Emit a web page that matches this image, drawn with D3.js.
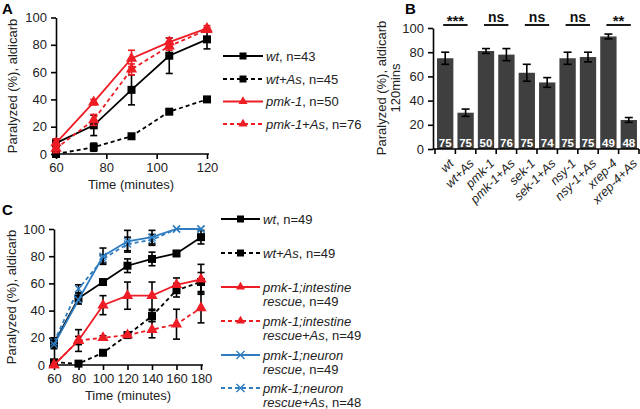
<!DOCTYPE html>
<html><head><meta charset="utf-8">
<script src="https://cdn.jsdelivr.net/npm/d3@7"></script>
<style>
body{margin:0;background:#fff}
svg{font-family:"Liberation Sans",Arial,sans-serif}
</style></head>
<body><svg id="c" width="640" height="409"></svg>
<script>
// ---------- Panel A data ----------
const timesA = [60, 75, 90, 105, 120];
const wtA = [8, 21, 47, 72, 84];
const wtAErr = [3, 7.5, 11, 13, 7];
const wtAsA = [0, 5, 13, 31, 40];
const wtAsAErr = [1, 3, 1.5, 1.5, 1.5];
const pmkA = [8, 38, 70, 82, 92];
const pmkAErr = [3, 2, 6, 3, 2];
const pmkAsA = [4, 25, 62, 79, 91];
const pmkAsAErr = [3, 4, 4, 3, 1.5];
const legendA = [["wt", ", n=43"], ["wt+As", ", n=45"], ["pmk-1", ", n=50"], ["pmk-1+As", ", n=76"]];

// ---------- Panel B data ----------
const strainsB = ["wt", "wt+As", "pmk-1", "pmk-1+As", "sek-1", "sek-1+As", "nsy-1", "nsy-1+As", "xrep-4", "xrep-4+As"];
const valuesB = [75, 30, 81, 78, 63, 55, 75, 76, 93, 24];
const errB = [5, 3, 2, 5, 7, 4, 5, 4, 2, 2];
const nB = [75, 75, 50, 76, 75, 74, 75, 75, 49, 48];
const sigB = ["***", "ns", "ns", "ns", "**"];

// ---------- Panel C data ----------
const timesC = [60, 80, 100, 120, 140, 160, 180];
const wtC = [16, 49, 61, 73, 78, 82, 94];
const wtCErr = [3, 4, 1.5, 5, 5, 1.5, 5];
const wtAsC = [2, 1, 9, 22, 36, 55, 61];
const wtAsCErr = [1, 1, 1.5, 1.5, 4, 5, 7];
const intC = [0, 18, 44, 51, 51, 59, 63];
const intCErr = [1, 8, 7, 10, 10, 5, 11];
const intAsC = [0, 18, 20, 22, 26, 30, 42];
const intAsCErr = [1, 3, 1.5, 1.5, 6, 11, 11];
const neuC = [15, 48, 80, 91, 94, 100, 100];
const neuCErr = [3, 3, 6, 8, 5, 0, 0];
const neuAsC = [17, 56, 78, 89, 92, 100, 100];
const neuAsCErr = [3, 3, 3, 5, 4, 0, 0];
const legendC = [
  [["wt", ", n=49"]],
  [["wt+As", ", n=49"]],
  [["pmk-1;intestine", ""], ["rescue", ", n=49"]],
  [["pmk-1;intestine", ""], ["rescue+As", ", n=49"]],
  [["pmk-1;neuron", ""], ["rescue", ", n=49"]],
  [["pmk-1;neuron", ""], ["rescue+As", ", n=48"]]
];

const RED = "#ee1c24", BLUE = "#2f7dc0", BLK = "#000", BAR = "#3f3f3f";
const svg = d3.select("#c");

function marker(g, type, x, y, color, s) {
  if (type === "sq") {
    g.append("rect").attr("x", x - s/2).attr("y", y - s/2).attr("width", s).attr("height", s).attr("fill", color);
  } else if (type === "tri") {
    g.append("path").attr("d", d3.symbol().type(d3.symbolTriangle).size(s*s*0.55)()).attr("transform", `translate(${x},${y})`).attr("fill", color);
  } else if (type === "x") {
    const h = s/2;
    g.append("path").attr("d", `M${x-h},${y-h}L${x+h},${y+h}M${x-h},${y+h}L${x+h},${y-h}`).attr("stroke", color).attr("stroke-width", 1.4);
  }
}

function axisStyle(g) {
  g.selectAll("path.domain").attr("stroke", "#000").attr("stroke-width", 1.6);
  g.selectAll(".tick line").attr("stroke", "#000").attr("stroke-width", 1.6);
  g.selectAll(".tick text").attr("font-size", 13).attr("fill", "#222").attr("font-family", "Liberation Sans, Arial, sans-serif");
}

function drawSeries(g, x, y, times, vals, errs, color, dashed, type, ms, errColor) {
  times.forEach((t, i) => {
    const e = errs[i];
    if (e <= 0) return;
    const cx = x(t), y1 = y(Math.min(100, vals[i] + e)), y2 = y(Math.max(0, vals[i] - e));
    const ec = errColor || color;
    g.append("line").attr("x1", cx).attr("x2", cx).attr("y1", y1).attr("y2", y2).attr("stroke", ec).attr("stroke-width", 1.6);
    [y1, y2].forEach(yy => g.append("line").attr("x1", cx - 3.5).attr("x2", cx + 3.5).attr("y1", yy).attr("y2", yy).attr("stroke", ec).attr("stroke-width", 1.6));
  });
  const line = d3.line().x((d, i) => x(times[i])).y(d => y(d));
  g.append("path").datum(vals).attr("d", line).attr("fill", "none").attr("stroke", color).attr("stroke-width", 1.8)
    .attr("stroke-dasharray", dashed ? "4,3" : null);
  vals.forEach((v, i) => marker(g, type, x(times[i]), y(v), color, ms));
}

function legendLabel(g, x, y, parts, size) {
  const t = g.append("text").attr("x", x).attr("y", y).attr("font-size", size).attr("fill", "#222");
  t.append("tspan").attr("font-style", "italic").text(parts[0]);
  if (parts[1]) t.append("tspan").text(parts[1]);
}

function legendRow(g, x1, x2, y, color, dashed, type, ms) {
  g.append("line").attr("x1", x1).attr("x2", x2).attr("y1", y).attr("y2", y).attr("stroke", color).attr("stroke-width", 1.8)
    .attr("stroke-dasharray", dashed ? "4,3" : null);
  marker(g, type, (x1 + x2) / 2, y, color, ms);
}

// ================= Panel A =================
{
  const g = svg.append("g");
  const x = d3.scaleLinear().domain([60, 120]).range([56, 207]);
  const y = d3.scaleLinear().domain([0, 100]).range([154, 17.5]);
  const ax = g.append("g").attr("transform", "translate(0,154)").call(d3.axisBottom(x).tickValues([60, 80, 100, 120]).tickSize(5).tickSizeOuter(0).tickPadding(4));
  ax.select("path.domain").attr("d", `M${x(60)},0H${x(120)+2}`);
  axisStyle(ax);
  const ay = g.append("g").attr("transform", "translate(56,0)").call(d3.axisLeft(y).tickValues([0, 20, 40, 60, 80, 100]).tickSize(5).tickSizeOuter(0).tickPadding(4));
  axisStyle(ay);
  g.append("text").attr("x", 131).attr("y", 189).attr("text-anchor", "middle").attr("font-size", 13).attr("fill", "#222").text("Time (minutes)");
  g.append("text").attr("transform", "translate(17,86) rotate(-90)").attr("text-anchor", "middle").attr("font-size", 13).attr("fill", "#222").text("Paralyzed (%), aldicarb");
  drawSeries(g, x, y, timesA, wtAsA, wtAsAErr, BLK, true, "sq", 8);
  drawSeries(g, x, y, timesA, wtA, wtAErr, BLK, false, "sq", 8);
  drawSeries(g, x, y, timesA, pmkAsA, pmkAsAErr, RED, true, "tri", 10);
  drawSeries(g, x, y, timesA, pmkA, pmkAErr, RED, false, "tri", 10);
  g.append("text").attr("x", 2).attr("y", 14).attr("font-size", 15).attr("font-weight", "bold").text("A");
  const rows = [56, 79, 101.5, 124];
  const sty = [[BLK, false, "sq"], [BLK, true, "sq"], [RED, false, "tri"], [RED, true, "tri"]];
  rows.forEach((ry, i) => {
    legendRow(g, 223, 263, ry, sty[i][0], sty[i][1], sty[i][2], sty[i][2] === "sq" ? 7 : 8);
    legendLabel(g, 266, ry + 4.5, legendA[i], 13);
  });
}

// ================= Panel B =================
{
  const g = svg.append("g");
  const x = d3.scaleBand().domain(strainsB).range([435, 639]).paddingInner(0.2).paddingOuter(0.1);
  const y = d3.scaleLinear().domain([0, 100]).range([149, 28]);
  g.selectAll("rect.bar").data(valuesB).join("rect").attr("class", "bar")
    .attr("x", (d, i) => x(strainsB[i])).attr("width", x.bandwidth())
    .attr("y", d => y(d)).attr("height", d => y(0) - y(d)).attr("fill", BAR);
  valuesB.forEach((v, i) => {
    const cx = x(strainsB[i]) + x.bandwidth() / 2;
    const y1 = y(v + errB[i]), y2 = y(v - errB[i]);
    g.append("line").attr("x1", cx).attr("x2", cx).attr("y1", y1).attr("y2", y2).attr("stroke", "#000").attr("stroke-width", 1.6);
    [y1, y2].forEach(yy => g.append("line").attr("x1", cx - 4).attr("x2", cx + 4).attr("y1", yy).attr("y2", yy).attr("stroke", "#000").attr("stroke-width", 1.6));
    g.append("text").attr("x", cx).attr("y", 147).attr("text-anchor", "middle").attr("font-size", 11.5).attr("font-weight", "bold").attr("fill", "#fff").text(nB[i]);
  });
  const ay = g.append("g").attr("transform", "translate(433,0)").call(d3.axisLeft(y).tickValues([0, 20, 40, 60, 80, 100]).tickSize(5).tickSizeOuter(0).tickPadding(4));
  axisStyle(ay);
  const step = x.step();
  const bounds = d3.range(strainsB.length + 1).map(i => x(strainsB[0]) - step * 0.1 + i * step);
  g.append("line").attr("x1", 433).attr("x2", 639).attr("y1", 149).attr("y2", 149).attr("stroke", "#000").attr("stroke-width", 1.6);
  bounds.forEach(bx => g.append("line").attr("x1", bx).attr("x2", bx).attr("y1", 149).attr("y2", 154).attr("stroke", "#000").attr("stroke-width", 1.6));
  strainsB.forEach((s, i) => {
    const cx = x(s) + x.bandwidth() / 2 + 3;
    g.append("text").attr("transform", `translate(${cx},158) rotate(-45)`).attr("text-anchor", "end").attr("dy", "0.7em")
      .attr("font-size", 12.5).attr("font-style", "italic").attr("fill", "#222").text(s);
  });
  sigB.forEach((s, k) => {
    const a = x(strainsB[2 * k]) + x.bandwidth() / 2 - 2, b = x(strainsB[2 * k + 1]) + x.bandwidth() / 2 + 2;
    g.append("line").attr("x1", a).attr("x2", b).attr("y1", 25).attr("y2", 25).attr("stroke", "#000").attr("stroke-width", 1.8);
    g.append("text").attr("x", (a + b) / 2).attr("y", s === "ns" ? 22 : 26).attr("text-anchor", "middle").attr("font-size", s === "ns" ? 14 : 15).attr("font-weight", "bold").attr("fill", "#111").text(s);
  });
  const tt = g.append("text").attr("transform", "translate(386,88) rotate(-90)").attr("text-anchor", "middle").attr("font-size", 13).attr("fill", "#222");
  tt.append("tspan").attr("x", 0).attr("dy", 0).text("Paralyzed (%), aldicarb");
  tt.append("tspan").attr("x", 0).attr("dy", 14).text("120mins");
  g.append("text").attr("x", 405).attr("y", 14).attr("font-size", 15).attr("font-weight", "bold").text("B");
}

// ================= Panel C =================
{
  const g = svg.append("g");
  const x = d3.scaleLinear().domain([60, 180]).range([54, 201]);
  const y = d3.scaleLinear().domain([0, 100]).range([365, 229]);
  const ax = g.append("g").attr("transform", "translate(0,365)").call(d3.axisBottom(x).tickValues(timesC).tickSize(5).tickSizeOuter(0).tickPadding(4));
  axisStyle(ax);
  ax.select("path.domain").attr("d", `M${x(60)},0H${x(180)+2}`);
  const ay = g.append("g").attr("transform", "translate(54,0)").call(d3.axisLeft(y).tickValues([0, 20, 40, 60, 80, 100]).tickSize(5).tickSizeOuter(0).tickPadding(4));
  axisStyle(ay);
  g.append("text").attr("x", 128).attr("y", 400).attr("text-anchor", "middle").attr("font-size", 13).attr("fill", "#222").text("Time (minutes)");
  g.append("text").attr("transform", "translate(16,297) rotate(-90)").attr("text-anchor", "middle").attr("font-size", 13).attr("fill", "#222").text("Paralyzed (%), aldicarb");
  drawSeries(g, x, y, timesC, wtAsC, wtAsCErr, BLK, true, "sq", 8, BLK);
  drawSeries(g, x, y, timesC, wtC, wtCErr, BLK, false, "sq", 8, BLK);
  drawSeries(g, x, y, timesC, intAsC, intAsCErr, RED, true, "tri", 10, BLK);
  drawSeries(g, x, y, timesC, intC, intCErr, RED, false, "tri", 10, BLK);
  drawSeries(g, x, y, timesC, neuAsC, neuAsCErr, BLUE, true, "x", 7, BLK);
  drawSeries(g, x, y, timesC, neuC, neuCErr, BLUE, false, "x", 7, BLK);
  g.append("text").attr("x", 2).attr("y", 215).attr("font-size", 15).attr("font-weight", "bold").text("C");
  const rows = [219, 253, 287, 321, 355, 388];
  const sty = [[BLK, false, "sq"], [BLK, true, "sq"], [RED, false, "tri"], [RED, true, "tri"], [BLUE, false, "x"], [BLUE, true, "x"]];
  rows.forEach((ry, i) => {
    legendRow(g, 221, 260, ry, sty[i][0], sty[i][1], sty[i][2], sty[i][2] === "sq" ? 7 : 8);
    legendC[i].forEach((parts, j) => legendLabel(g, 263, ry + 4.5 + j * 14.5, parts, 13));
  });
}
</script></body></html>
